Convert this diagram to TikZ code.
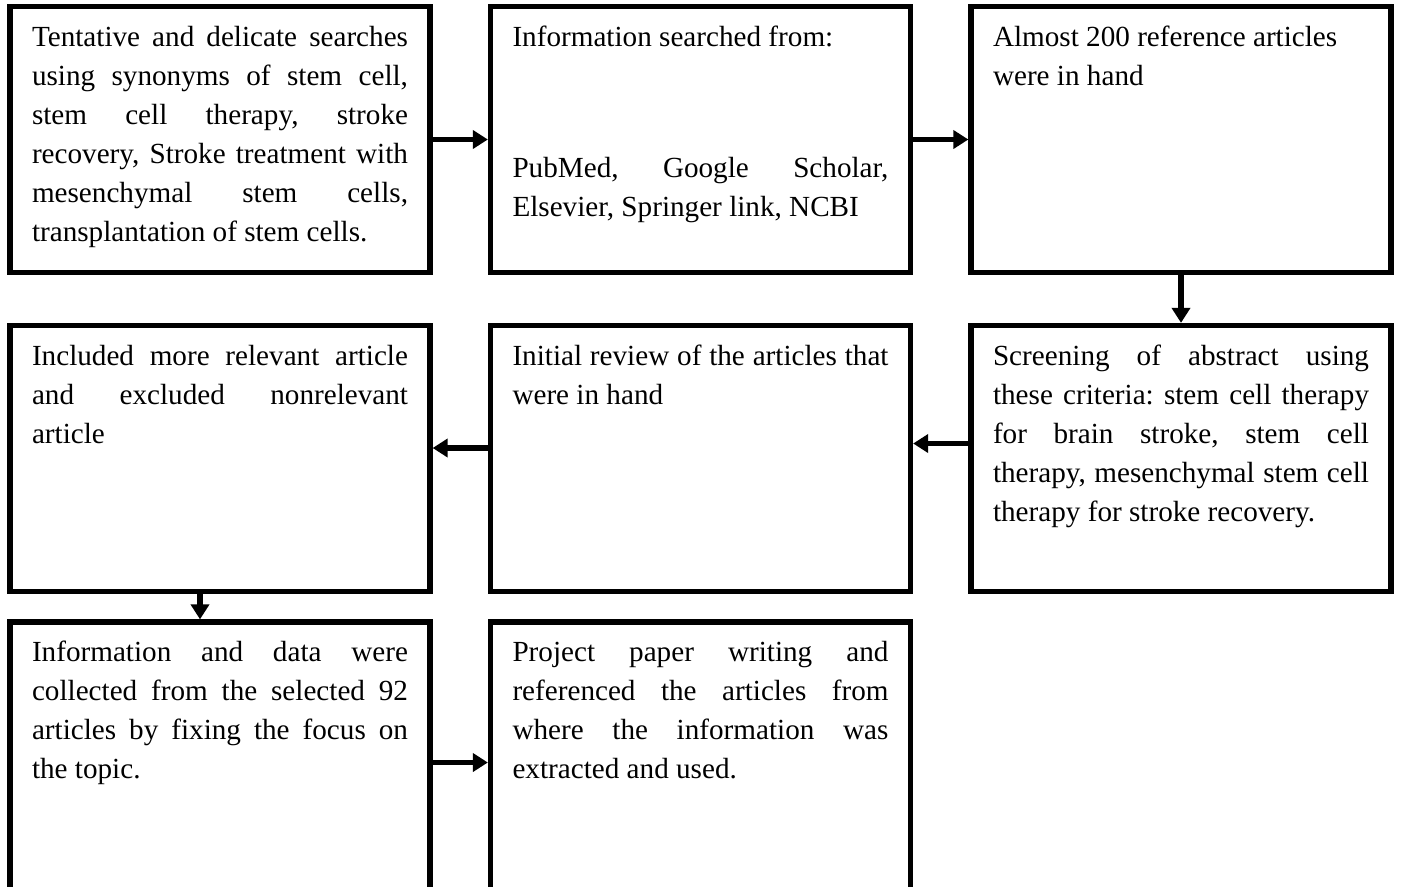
\documentclass[tikz,border=0pt]{standalone}
\usepackage{fontspec}
\setmainfont{Liberation Serif}
\usepackage{tikz}
\usetikzlibrary{arrows.meta}

\newcommand{\stagetext}[2][5.32cm]{\parbox[c][#1][t]{7.52cm}{%
  \tolerance=10000\hbadness=10000\hyphenpenalty=10000\exhyphenpenalty=10000%
  \frenchspacing\rule{0pt}{0.79cm}#2}}

\tikzset{
  stage/.style={draw,line width=3pt,inner sep=0pt,minimum width=8.4cm,
    font=\fontsize{16.6}{22.2}\selectfont},
  flow/.style={line width=3pt,-{Triangle[width=0.36cm,length=0.3cm]}}
}

\begin{document}
\begin{tikzpicture}
        \useasboundingbox (0,0) rectangle (28.04,-17.72);
        % first row
        \node[stage] (search) at (4.40,-2.79) {\stagetext{Tentative and delicate searches \linebreak
          using synonyms of stem cell, \linebreak stem cell therapy, stroke \linebreak
          recovery, Stroke treatment with \linebreak mesenchymal stem cells, \linebreak
          transplantation of stem cells.}};
        \node[stage] (sources) at (14.01,-2.79) {\stagetext{Information searched from:\par
          \vspace{1.84cm}PubMed, Google Scholar, \linebreak Elsevier, Springer link, NCBI}};
        \node[stage] (found) at (23.62,-2.79) {\stagetext{Almost 200 reference articles\\ were in hand}};
        % second row
        \node[stage] (screen) at (23.62,-9.17) {\stagetext{Screening of abstract using \linebreak
          these criteria: stem cell therapy \linebreak for brain stroke, stem cell \linebreak
          therapy, mesenchymal stem cell \linebreak therapy for stroke recovery.}};
        \node[stage] (review) at (14.01,-9.17) {\stagetext{Initial review of the articles that \linebreak
          were in hand}};
        \node[stage] (select) at (4.40,-9.17) {\stagetext{Included more relevant article \linebreak
          and excluded nonrelevant \linebreak article}};
        % third row, runs off the page
        \node[stage] (collect) at (4.40,-15.34) {\stagetext[5.8cm]{Information and data were \linebreak
          collected from the selected 92 \linebreak articles by fixing the focus on \linebreak
          the topic.}};
        \node[stage] (write) at (14.01,-15.34) {\stagetext[5.8cm]{Project paper writing and \linebreak
          referenced the articles from \linebreak where the information was \linebreak
          extracted and used.}};
        % arrows
        \draw[flow] (search.east) -- (sources.west);
        \draw[flow] (sources.east) -- (found.west);
        \draw[flow] (found.south) -- (screen.north);
        \draw[flow] ([yshift=0.3cm]screen.west) -- ([yshift=0.3cm]review.east);
        \draw[flow] ([yshift=0.21cm]review.west) -- ([yshift=0.21cm]select.east);
        \draw[flow] ([xshift=-0.4cm]select.south) -- ([xshift=-0.4cm]collect.north);
        \draw[flow] ([yshift=0.09cm]collect.east) -- ([yshift=0.09cm]write.west);
      \end{tikzpicture}
\end{document}
